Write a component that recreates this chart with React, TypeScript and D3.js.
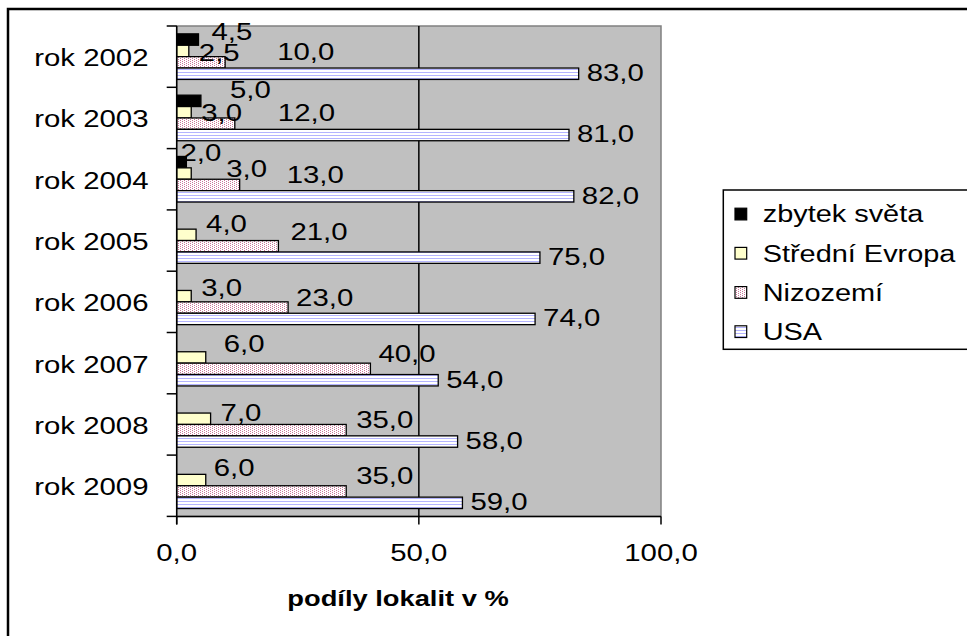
import React from "react";
import * as d3 from "d3";

// Categories (top to bottom) and the four series, values in %
const years = ["rok 2002", "rok 2003", "rok 2004", "rok 2005", "rok 2006", "rok 2007", "rok 2008", "rok 2009"];
const seriesNames = ["zbytek světa", "Střední Evropa", "Nizozemí", "USA"];
const zbytekSveta: (number | null)[] = [4.5, 5.0, 2.0, null, null, null, null, null];
const stredniEvropa: (number | null)[] = [2.5, 3.0, 3.0, 4.0, 3.0, 6.0, 7.0, 6.0];
const nizozemi: (number | null)[] = [10.0, 12.0, 13.0, 21.0, 23.0, 40.0, 35.0, 35.0];
const usa: (number | null)[] = [83.0, 81.0, 82.0, 75.0, 74.0, 54.0, 58.0, 59.0];
const xTicks = [0, 50, 100];
const axisTitle = "podíly lokalit v %";

// Hand-placed data label nudges [dx, dy] per series and year
const labelNudges: [number, number][][] = [
  [[5, -7], [21, -10], [-14, -9], [0, 0], [0, 0], [0, 0], [0, 0], [0, 0]],
  [[2, 3], [2, 1], [27, -4], [2, -10], [2, -8], [10, -13], [2, -5], [0, -11]],
  [[44, -10], [35, -10], [39, -9], [4, -14], [0, -9], [0, -14], [2, -10], [2, -15]],
  [[0, 0], [0, 0], [0, 0], [0, 0], [0, 0], [0, 0], [0, 0], [0, 0]],
];

const seriesValues = [zbytekSveta, stredniEvropa, nizozemi, usa];
const fills = ["#000000", "#ffffcc", "url(#dotsPink)", "url(#stripesBlue)"];

const W = 967;
const H = 636;
const plot = { left: 176.7, right: 661, top: 26, bottom: 516.4 };

const csLocale = d3.formatLocale({ decimal: ",", thousands: " ", grouping: [3], currency: ["", " Kč"] });
const fmt = csLocale.format(".1f");

const FONT = "'Liberation Sans', Arial, sans-serif";
const STRETCH = 1.25;
const SIZE = 23.5;

function SText(props: {
  x: number;
  y: number;
  anchor?: "start" | "middle" | "end";
  size?: number;
  bold?: boolean;
  stretch?: number;
  children: React.ReactNode;
}) {
  const { x, y, anchor = "start", size = SIZE, bold = false, stretch = STRETCH, children } = props;
  return (
    <text
      transform={`translate(${x},${y}) scale(${stretch},1)`}
      textAnchor={anchor}
      fontFamily={FONT}
      fontSize={size}
      fontWeight={bold ? "bold" : "normal"}
      fill="#000"
    >
      {children}
    </text>
  );
}

export default function App() {
  const x = d3.scaleLinear().domain([0, 100]).range([plot.left, plot.right]);
  const y = d3.scaleBand<string>().domain(years).range([plot.top, plot.bottom]).padding(0);
  const inner = d3
    .scaleBand<string>()
    .domain(seriesNames)
    .range([0, y.step()])
    .paddingInner(0)
    .paddingOuter(0.69);
  const barH = inner.bandwidth();

  const legendRows = seriesNames.map((name, i) => ({ name, fill: fills[i], cy: 214 + i * 39.2 }));

  return (
    <svg
      width={W}
      height={H}
      style={{ position: "absolute", left: 0, top: 0, background: "#fff" }}
      xmlns="http://www.w3.org/2000/svg"
    >
      <defs>
        <pattern id="dotsPink" width={4} height={2} patternUnits="userSpaceOnUse">
          <rect width={4} height={2} fill="#ffffff" />
          <rect x={0} y={0} width={1} height={1} fill="#cc7799" />
          <rect x={2} y={1} width={1} height={1} fill="#cc7799" />
        </pattern>
        <pattern id="stripesBlue" width={4} height={3} patternUnits="userSpaceOnUse">
          <rect width={4} height={3} fill="#ffffff" />
          <rect x={0} y={0} width={4} height={1} fill="#b4b4ff" />
        </pattern>
      </defs>

      {/* chart frame */}
      <rect x={8} y={9} width={W} height={H} fill="none" stroke="#000" strokeWidth={2.5} />

      {/* plot area */}
      <rect
        x={plot.left}
        y={plot.top}
        width={plot.right - plot.left}
        height={plot.bottom - plot.top}
        fill="#c0c0c0"
        stroke="#808080"
        strokeWidth={1.5}
      />
      {/* vertical gridline */}
      <line x1={x(50)} x2={x(50)} y1={plot.top} y2={plot.bottom} stroke="#000" strokeWidth={1.5} />

      {/* bars */}
      {seriesValues.map((vals, si) =>
        vals.map((v, yi) => {
          if (v == null) return null;
          const by = (y(years[yi]) as number) + (inner(seriesNames[si]) as number);
          return (
            <rect
              key={`b-${si}-${yi}`}
              x={x(0)}
              y={by}
              width={x(v) - x(0)}
              height={barH}
              fill={fills[si]}
              stroke="#000"
              strokeWidth={1.3}
            />
          );
        })
      )}

      {/* axes */}
      <line x1={plot.left} x2={plot.left} y1={plot.top} y2={plot.bottom + 8} stroke="#000" strokeWidth={1.5} />
      <line x1={plot.left} x2={plot.right} y1={plot.bottom} y2={plot.bottom} stroke="#000" strokeWidth={1.5} />
      {years.concat(["end"]).map((_, i) => {
        const ty = plot.top + i * y.step();
        return <line key={`yt-${i}`} x1={plot.left - 10} x2={plot.left} y1={ty} y2={ty} stroke="#000" strokeWidth={1.5} />;
      })}
      {xTicks.map((t) => (
        <line key={`xt-${t}`} x1={x(t)} x2={x(t)} y1={plot.bottom} y2={plot.bottom + 8} stroke="#000" strokeWidth={1.5} />
      ))}

      {/* category labels */}
      {years.map((yr) => (
        <SText key={yr} x={148.5} y={(y(yr) as number) + y.bandwidth() / 2 + 9.5} anchor="end">
          {yr}
        </SText>
      ))}

      {/* value axis labels */}
      {xTicks.map((t) => (
        <SText key={`xl-${t}`} x={x(t)} y={561} anchor="middle">
          {fmt(t)}
        </SText>
      ))}

      {/* axis title */}
      <SText x={398} y={606} anchor="middle" size={21.5} bold stretch={1.27}>
        {axisTitle}
      </SText>

      {/* data labels */}
      {seriesValues.map((vals, si) =>
        vals.map((v, yi) => {
          if (v == null) return null;
          const cy = (y(years[yi]) as number) + (inner(seriesNames[si]) as number) + barH / 2;
          const [dx, dy] = labelNudges[si][yi];
          return (
            <SText key={`l-${si}-${yi}`} x={x(v) + 8 + dx} y={cy - 1 + dy + 8.4}>
              {fmt(v)}
            </SText>
          );
        })
      )}

      {/* legend */}
      <rect x={723.3} y={190} width={260} height={159.3} fill="#fff" stroke="#000" strokeWidth={1.5} />
      {legendRows.map((r) => (
        <g key={r.name}>
          <rect x={735} y={r.cy - 5.8} width={11.7} height={11.7} fill={r.fill} stroke="#000" strokeWidth={1.2} />
          <SText x={762.7} y={r.cy + 8.4} stretch={1.23}>
            {r.name}
          </SText>
        </g>
      ))}
    </svg>
  );
}
